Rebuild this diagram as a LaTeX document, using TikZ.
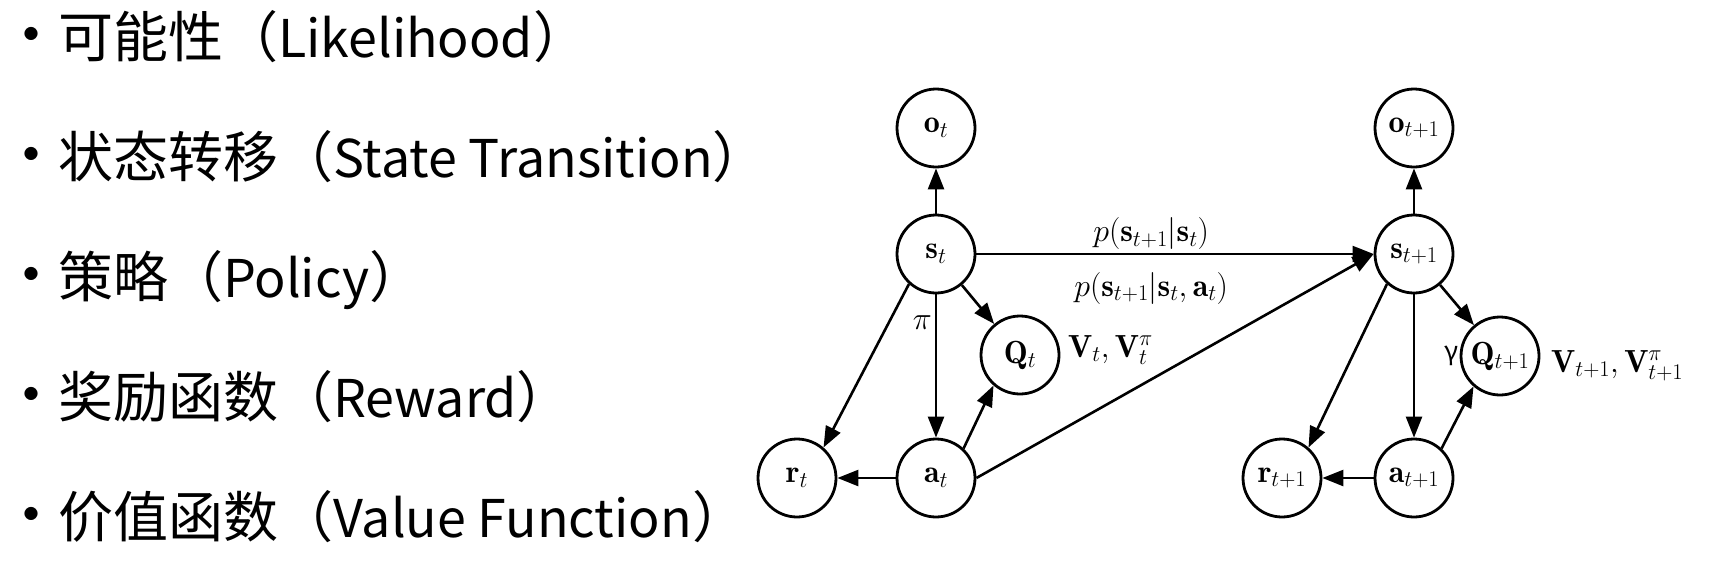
\RequirePackage{fix-cm}
\documentclass[tikz,border=0pt]{standalone}
\usepackage{fontspec}
\newfontfamily\cjk{Noto Sans CJK SC}
\usepackage{tikz}
\usetikzlibrary{arrows.meta}

\begin{document}
\begin{tikzpicture}[x=1pt,y=-1pt,>={Triangle[length=21pt,width=16pt]},
    var/.style={circle,draw,line width=2.8pt,minimum size=78pt,inner sep=0pt,font=\fontsize{32}{38}\selectfont},
    lbl/.style={font=\fontsize{32}{38}\selectfont,inner sep=3pt},
    item/.style={anchor=base west,inner sep=0pt,font=\cjk\fontsize{55}{66}\selectfont},
    edge/.style={->,line width=2.6pt}]
\useasboundingbox (0,0) rectangle (1712,576);

% bullet list
\foreach \y/\zh/\en [count=\i] in {57/可能性/Likelihood, 177/状态转移/State Transition,
    297/策略/Policy, 417/奖励函数/Reward, 537/价值函数/Value Function} {
    \node[item,anchor=base] (dot\i) at (31,\y) {\fontsize{62}{62}\selectfont •};
    \node[item] (item\i) at (58,\y) {\zh（{\fontsize{52}{60}\selectfont\en}）};
}

% time t
\node[var] (st) at (936,254) {$\mathbf{s}_t$};
\node[var] (ot) at (936,128) {$\mathbf{o}_t$};
\node[var] (Qt) at (1020,355) {$\mathbf{Q}_t$};
\node[var] (rt) at (797,478) {$\mathbf{r}_t$};
\node[var] (at) at (936,478) {$\mathbf{a}_t$};
\node[lbl,anchor=base west,inner sep=0pt] (Vt) at (1068,357) {$\mathbf{V}_t, \mathbf{V}_t^\pi$};

% time t+1
\node[var] (st1) at (1414,254) {$\mathbf{s}_{t+1}$};
\node[var] (ot1) at (1414,128) {$\mathbf{o}_{t+1}$};
\node[var] (Qt1) at (1500,356) {$\mathbf{Q}_{t+1}$};
\node[var] (rt1) at (1282,478) {$\mathbf{r}_{t+1}$};
\node[var] (at1) at (1414,478) {$\mathbf{a}_{t+1}$};
\node[lbl,anchor=base west,inner sep=0pt] (Vt1) at (1551,372) {$\mathbf{V}_{t+1}, \mathbf{V}_{t+1}^\pi$};
\node[font=\cjk\fontsize{26}{30}\selectfont,anchor=east,inner sep=1pt] (gam) at (Qt1.west) {γ};

% edges at t
\draw[edge] (st) -- (ot);
\draw[edge] (st) -- node[lbl,left,pos=0.2]{$\pi$} (at);
\draw[edge] (st) -- (Qt);
\draw[edge] (st.228) -- (rt.49);
\draw[edge] (at) -- (rt);
\draw[edge] (at.47) -- (Qt.229);

% transition
\draw[edge,line width=2.1pt] (st) -- node[lbl,above,pos=0.44]{$p(\mathbf{s}_{t+1}|\mathbf{s}_t)$}
    node[lbl,below=14pt,pos=0.44]{$p(\mathbf{s}_{t+1}|\mathbf{s}_t,\mathbf{a}_t)$} (st1);
\draw[edge] (at.east) -- (st1.west);

% edges at t+1
\draw[edge] (st1) -- (ot1);
\draw[edge] (st1) -- (at1);
\draw[edge] (st1) -- (Qt1);
\draw[edge] (st1.228) -- (rt1.49);
\draw[edge] (at1) -- (rt1);
\draw[edge] (at1.47) -- (Qt1.229);
\end{tikzpicture}
\end{document}
